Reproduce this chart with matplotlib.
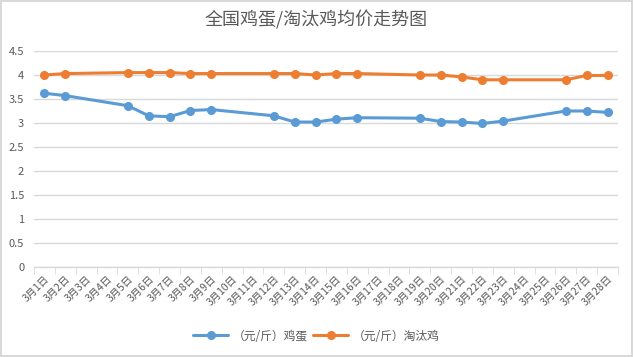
import matplotlib
matplotlib.use("Agg")
import matplotlib.pyplot as plt
from matplotlib.ticker import FixedLocator, MultipleLocator

plt.rcParams['font.family'] = ['Noto Sans CJK SC', 'DejaVu Sans']

# categories: 3月1日 .. 3月28日
dates = ['3月%d日' % d for d in range(1, 29)]

# days (of March) that have a price reading
price_days = [1, 2, 5, 6, 7, 8, 9, 12, 13, 14, 15, 16, 19, 20, 21, 22, 23, 26, 27, 28]

# average prices (元/斤)
egg_prices = [3.62, 3.57, 3.36, 3.15, 3.13, 3.26, 3.28, 3.15, 3.02, 3.02,
              3.08, 3.11, 3.10, 3.03, 3.02, 2.99, 3.04, 3.25, 3.25, 3.22]
hen_prices = [4.00, 4.03, 4.05, 4.05, 4.05, 4.03, 4.03, 4.03, 4.03, 4.00,
              4.03, 4.03, 4.00, 4.00, 3.96, 3.90, 3.90, 3.90, 3.99, 3.99]

series_names = ['（元/斤）鸡蛋', '（元/斤）淘汰鸡']

BLUE = '#5b9bd5'
ORANGE = '#ed7d31'
GRID = '#d9d9d9'
TEXT = '#595959'

fig = plt.figure(figsize=(6.33, 3.57), dpi=100)
fig.patch.set_edgecolor('#d9d9d9')
fig.patch.set_linewidth(1.5)
ax = fig.add_axes([34 / 633, 1 - 267 / 357, 584 / 633, 216 / 357])

xs = [d - 1 for d in price_days]
ax.plot(xs, egg_prices, color=BLUE, lw=2.2, marker='o', ms=5.5,
        label=series_names[0], solid_capstyle='round')
ax.plot(xs, hen_prices, color=ORANGE, lw=2.2, marker='o', ms=5.5,
        label=series_names[1], solid_capstyle='round')

ax.set_xlim(-0.5, len(dates) - 0.5)
ax.set_ylim(0, 4.5)
ax.yaxis.set_major_locator(MultipleLocator(0.5))
ax.set_yticklabels([f'{v:g}' for v in ax.get_yticks()])
ax.grid(axis='y', color=GRID, lw=1)
ax.set_axisbelow(True)

for s in ['top', 'right', 'left']:
    ax.spines[s].set_visible(False)
ax.spines['bottom'].set_color(GRID)
ax.spines['bottom'].set_linewidth(1)

ax.set_xticks(range(len(dates)))
ax.set_xticklabels(dates, rotation=45, ha='right', va='top',
                   rotation_mode='anchor', fontsize=7.5, color=TEXT)
ax.tick_params(axis='x', length=0, pad=5)
ax.xaxis.set_minor_locator(FixedLocator([i - 0.5 for i in range(len(dates) + 1)]))
ax.tick_params(axis='x', which='minor', length=5, color=GRID, direction='out')
ax.tick_params(axis='y', length=0, labelsize=8, labelcolor=TEXT, pad=7)

fig.text(0.5, 1 - 20 / 357, '全国鸡蛋/淘汰鸡均价走势图', ha='center', va='center',
         fontsize=13, color=TEXT)

fig.legend(loc='center', bbox_to_anchor=(0.5, 1 - 336 / 357), ncol=2,
           frameon=False, fontsize=8.5, labelcolor=TEXT, handlelength=3,
           columnspacing=0.4, handletextpad=0.4)

fig.savefig('out.png', dpi=100)
